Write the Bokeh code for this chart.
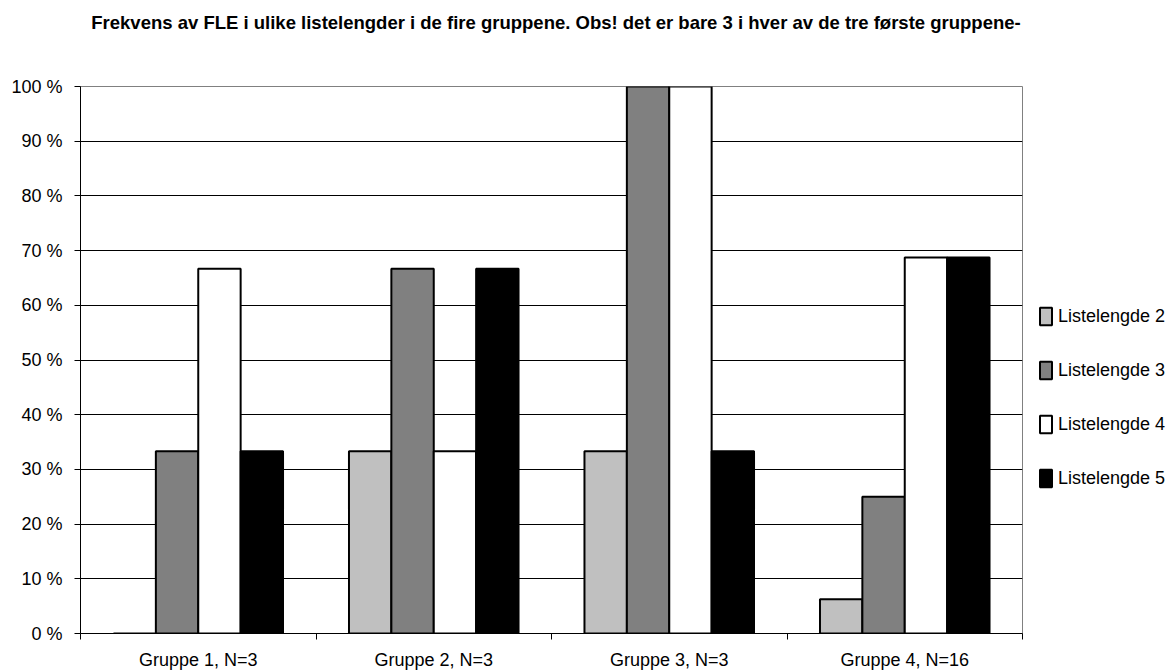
from bokeh.plotting import figure
from bokeh.models import ColumnDataSource, FixedTicker, Legend, LegendItem, Div
from bokeh.layouts import column
from bokeh.transform import dodge
from bokeh.embed import file_html
from bokeh.resources import INLINE

title_text = "Frekvens av FLE i ulike listelengder i de fire gruppene. Obs! det er bare 3 i hver av de tre første gruppene-"
groups = ["Gruppe 1, N=3", "Gruppe 2, N=3", "Gruppe 3, N=3", "Gruppe 4, N=16"]
series = ["Listelengde 2", "Listelengde 3", "Listelengde 4", "Listelengde 5"]
l2 = [0, 33.3, 33.3, 6.25]
l3 = [33.3, 66.7, 100, 25]
l4 = [66.7, 33.3, 100, 68.75]
l5 = [33.3, 66.7, 33.3, 68.75]
colors = ["#C0C0C0", "#808080", "#FFFFFF", "#000000"]
y_ticks = [0, 10, 20, 30, 40, 50, 60, 70, 80, 90, 100]

FONT = "Liberation Sans"
centers = [i + 0.5 for i in range(len(groups))]
src = ColumnDataSource(dict(x=centers, l2=l2, l3=l3, l4=l4, l5=l5))

head = Div(text=title_text, width=1102, height=33,
           styles={"font-family": FONT, "font-size": "18.5px", "font-weight": "bold",
                   "text-align": "center", "color": "#000000", "padding-top": "7px",
                   "line-height": "21px", "white-space": "nowrap"})

p = figure(title=None, frame_width=942, frame_height=547, output_backend="svg", toolbar_location=None,
           x_range=(0, len(groups)), y_range=(0, 100),
           min_border_left=80, min_border_right=151, min_border_top=43, min_border_bottom=38)

offsets = [-0.27, -0.09, 0.09, 0.27]
cols = ["l2", "l3", "l4", "l5"]
items = []
for col, off, c, name in zip(cols, offsets, colors, series):
    r = p.vbar(x=dodge("x", off), top=col, width=0.18, source=src,
               fill_color=c, line_color="#000000", line_width=2)
    items.append(LegendItem(label=name, renderers=[r]))

legend = Legend(items=items, location=(16, 144), orientation="vertical",
                label_text_font=FONT, label_text_font_size="18px", label_text_color="#000000",
                glyph_width=15, glyph_height=22, label_height=22, spacing=32,
                label_standoff=5, padding=0, margin=0,
                border_line_color=None, background_fill_alpha=0)
p.add_layout(legend, "right")

# y axis
p.yaxis.ticker = FixedTicker(ticks=y_ticks)
p.yaxis.major_label_overrides = {v: f"{v} %" for v in y_ticks}
p.yaxis.major_label_text_font = FONT
p.yaxis.major_label_text_font_size = "18px"
p.yaxis.major_label_text_color = "#000000"
p.yaxis.major_tick_in = 0
p.yaxis.major_tick_out = 6
p.yaxis.minor_tick_line_color = None
p.yaxis.axis_line_color = "#000000"
p.yaxis.major_tick_line_color = "#000000"
p.yaxis.major_label_standoff = 12

# x axis
p.xaxis.ticker = FixedTicker(ticks=centers, minor_ticks=list(range(len(groups) + 1)))
p.xaxis.major_label_overrides = {c: g for c, g in zip(centers, groups)}
p.xaxis.major_label_text_font = FONT
p.xaxis.major_label_text_font_size = "18px"
p.xaxis.major_label_text_color = "#000000"
p.xaxis.major_tick_line_color = None
p.xaxis.major_tick_out = 6
p.xaxis.minor_tick_in = 0
p.xaxis.minor_tick_out = 6
p.xaxis.minor_tick_line_color = "#000000"
p.xaxis.axis_line_color = "#000000"
p.xaxis.major_label_standoff = 10

p.xgrid.grid_line_color = None
p.ygrid.ticker = FixedTicker(ticks=y_ticks)
p.ygrid.grid_line_color = "#000000"
p.ygrid.grid_line_width = 1
p.outline_line_color = "#808080"
p.outline_line_width = 1
p.background_fill_color = "#FFFFFF"
p.border_fill_color = "#FFFFFF"

layout = column(head, p, spacing=0)
open("out.html", "w").write(file_html(layout, INLINE))
